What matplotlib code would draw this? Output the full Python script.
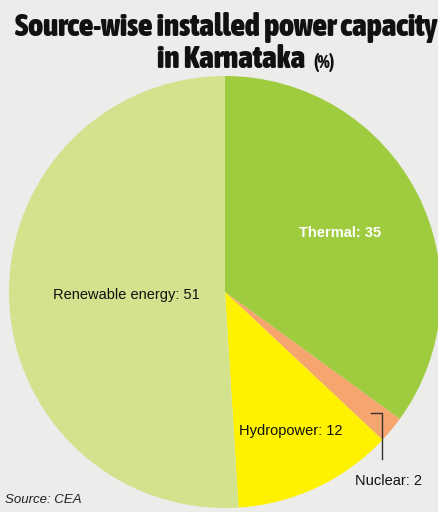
import numpy as np
import matplotlib.pyplot as plt
from matplotlib import font_manager
from matplotlib.font_manager import FontProperties

sources = ["Thermal", "Nuclear", "Hydropower", "Renewable energy"]
shares = [35, 2, 12, 51]
colors = ["#9fcb3e", "#f6a56f", "#fff200", "#d3e28c"]


def pick_title_font():
    # prefer a bold condensed face for the headline
    best = None
    for f in font_manager.fontManager.ttflist:
        cond = ("Condensed" in f.name or "Narrow" in f.name
                or str(f.stretch) in ("condensed", "semi-condensed",
                                      "extra-condensed", "ultra-condensed")
                or (isinstance(f.stretch, int) and f.stretch < 500))
        if not cond or f.style != "normal":
            continue
        w = f.weight if isinstance(f.weight, int) else 400
        if best is None or w > best[0]:
            best = (w, f.fname)
    if best:
        return FontProperties(fname=best[1])
    return FontProperties(family="DejaVu Sans", weight="bold")


tfont = pick_title_font()

bg = "#ececea"
fig = plt.figure(figsize=(4.39, 5.12), dpi=100, facecolor=bg)
ax = fig.add_axes([(225 - 216) / 439, 4 / 512, 432 / 439, 432 / 512])
ax.set_facecolor(bg)

wedges, _ = ax.pie(shares, colors=colors, startangle=90, counterclock=False,
                   wedgeprops=dict(linewidth=0))
ax.set_xlim(-1, 1)
ax.set_ylim(-1, 1)
ax.set_aspect("equal")
ax.axis("off")

dist = {"Thermal": 0.6, "Hydropower": 0.71, "Renewable energy": 0.455}
for w, name, val in zip(wedges, sources, shares):
    mid = np.deg2rad((w.theta1 + w.theta2) / 2)
    if name == "Nuclear":
        px, py = 0.88 * np.cos(mid), 0.88 * np.sin(mid)
        ax.plot([px, px + 0.05, px + 0.05], [py, py, py - 0.21],
                color="#333333", lw=1)
        ax.text(px + 0.08, py - 0.315, f"{name}: {val}", ha="center",
                va="center", fontsize=10.5, family="Liberation Sans",
                color="#111111")
        continue
    r = dist[name]
    ax.text(r * np.cos(mid), r * np.sin(mid), f"{name}: {val}",
            ha="center", va="center", fontsize=10.5,
            family="Liberation Sans",
            color="white" if name == "Thermal" else "#111111",
            fontweight="bold" if name == "Thermal" else "normal")

t1 = fig.text(226 / 439, 1 - 36 / 512, "Source-wise installed power capacity",
              ha="center", va="baseline", fontproperties=tfont, fontsize=21,
              color="#111111")
t2 = fig.text(305 / 439, 1 - 68 / 512, "in Karnataka", ha="right",
              va="baseline", fontproperties=tfont, fontsize=21,
              color="#111111")
t3 = fig.text(313 / 439, 1 - 68 / 512, "(%)", ha="left", va="baseline",
              fontproperties=tfont, fontsize=13, color="#111111")

# fit the headline width to the reference (~422 px)
fig.canvas.draw()
r = fig.canvas.get_renderer()
s1 = min(422 / t1.get_window_extent(r).width, 1.3)
for t in (t1, t2, t3):
    t.set_fontsize(t.get_fontsize() * s1)

fig.text(5 / 439, 1 - 500 / 512, "Source: CEA", ha="left", va="center",
         fontsize=9.5, style="italic", family="Liberation Sans",
         color="#222222")

fig.savefig("out.png", dpi=100, facecolor=bg)
